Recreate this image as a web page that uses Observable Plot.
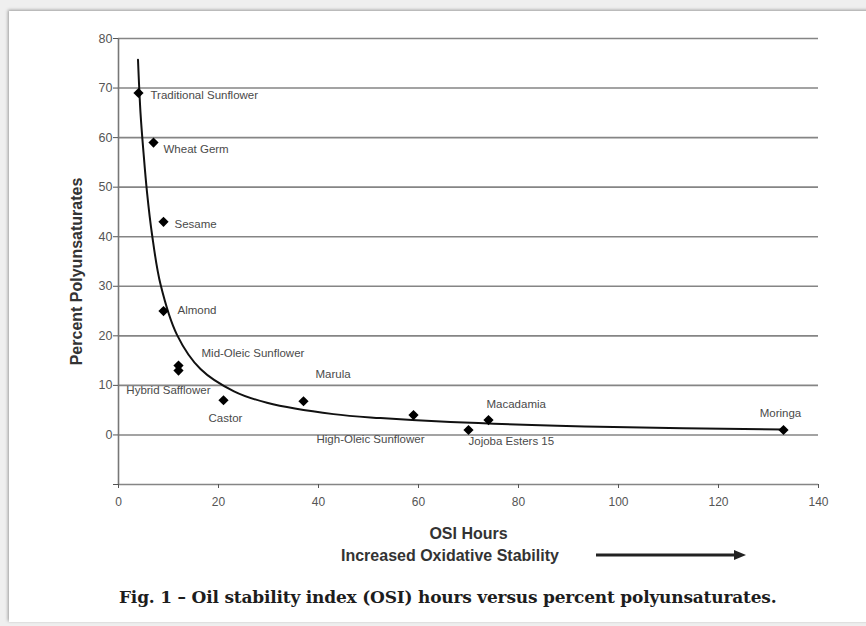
<!DOCTYPE html>
<html>
<head>
<meta charset="utf-8">
<script src="https://cdn.jsdelivr.net/npm/d3@7"></script>
<script src="https://cdn.jsdelivr.net/npm/@observablehq/plot@0.6"></script>
<style>
  html, body { margin: 0; padding: 0; }
  body { width: 866px; height: 626px; background: #efefef; position: relative; overflow: hidden;
         font-family: "Liberation Sans", Arial, sans-serif; }
  #panel { position: absolute; left: 9px; top: 11px; width: 870px; height: 611px; background: #fff;
           box-shadow: -1px -1px 3px rgba(0,0,0,0.35); }
  #chart { position: absolute; left: 0; top: 0; }
  #stability { position: absolute; left: 341px; top: 547px; font-weight: bold; font-size: 16px; color: #333;
               white-space: nowrap; }
  #arrow { position: absolute; left: 594px; top: 548px; }
  #caption { position: absolute; left: 119px; top: 587px; font-family: "DejaVu Serif", serif; font-weight: bold;
             font-size: 17px; color: #1d1d1d; white-space: nowrap; letter-spacing: -0.2px; }
</style>
</head>
<body>
<div id="panel"></div>
<div id="chart"></div>
<div id="stability">Increased Oxidative Stability</div>
<svg id="arrow" width="160" height="14"><line x1="2" y1="7" x2="142" y2="7" stroke="#222" stroke-width="3"/><path d="M140,2 L152,7 L140,12 Z" fill="#222"/></svg>
<div id="caption">Fig. 1 – Oil stability index (OSI) hours versus percent polyunsaturates.</div>
<script>
// Oils and their values
const oils = ["Traditional Sunflower", "Wheat Germ", "Sesame", "Almond", "Mid-Oleic Sunflower",
  "Hybrid Safflower", "Castor", "Marula", "High-Oleic Sunflower", "Jojoba Esters 15", "Macadamia", "Moringa"];
const osiHours = [4, 7, 9, 9, 12, 12, 21, 37, 59, 70, 74, 133];
const polyunsaturates = [69, 59, 43, 25, 14, 13, 7, 6.8, 4, 1, 3, 1];

// Trend curve, points
const curveHours = [3.9, 4.4, 5, 5.7, 6.7, 8.4, 11.7, 16.4, 23.1, 29.7, 43, 52.4, 66.4, 99, 133];
const curvePct = [75.7, 65, 57, 49, 40.5, 30.4, 20.2, 13.3, 8.8, 6.5, 4.2, 3.4, 2.6, 1.6, 1.1];

// Axis ticks
const xTicks = [0, 20, 40, 60, 80, 100, 120, 140];
const yTicks = [0, 10, 20, 30, 40, 50, 60, 70, 80];
const yTickMarks = [-10, ...yTicks];

const xTitle = "OSI Hours";
const yTitle = "Percent Polyunsaturates";

const points = oils.map((name, i) => ({name, x: osiHours[i], y: polyunsaturates[i]}));
const curve = curveHours.map((x, i) => ({x, y: curvePct[i]}));

// label placement (layout only)
const labelLayout = {
  "Traditional Sunflower": {dx: 12, dy: 2, anchor: "start"},
  "Wheat Germ": {dx: 10, dy: 7, anchor: "start"},
  "Sesame": {dx: 11, dy: 2, anchor: "start"},
  "Almond": {dx: 14, dy: -1, anchor: "start"},
  "Mid-Oleic Sunflower": {dx: 23, dy: -12, anchor: "start"},
  "Hybrid Safflower": {dx: 32, dy: 20, anchor: "end"},
  "Castor": {dx: 2, dy: 18, anchor: "middle"},
  "Marula": {dx: 12, dy: -27, anchor: "start"},
  "High-Oleic Sunflower": {dx: 11, dy: 24, anchor: "end"},
  "Jojoba Esters 15": {dx: 0, dy: 11, anchor: "start"},
  "Macadamia": {dx: -2, dy: -16, anchor: "start"},
  "Moringa": {dx: -3, dy: -17, anchor: "middle"}
};

const labelMarks = points.map(p => {
  const L = labelLayout[p.name];
  return Plot.text([p], {x: "x", y: "y", text: "name", dx: L.dx, dy: L.dy, textAnchor: L.anchor,
    fontSize: 11.5, fill: "#4a4a4a"});
});

const chart = Plot.plot({
  width: 866,
  height: 545,
  marginTop: 38,
  marginBottom: 61,
  marginLeft: 118,
  marginRight: 48,
  style: {fontFamily: "'Liberation Sans', Arial, sans-serif", fontSize: "12px", color: "#555", background: "transparent"},
  x: {domain: [0, 140]},
  y: {domain: [-10, 80]},
  marks: [
    Plot.ruleY(yTicks, {stroke: "#858585", strokeWidth: 1.6}),
    Plot.ruleY([-10], {stroke: "#858585", strokeWidth: 1.6}),
    Plot.ruleX([0], {stroke: "#777", strokeWidth: 1.6}),
    Plot.axisX({ticks: xTicks, tickSize: 4, tickPadding: 9, label: null, fontSize: 12}),
    Plot.axisY({ticks: yTickMarks, tickFormat: d => d < 0 ? "" : d, tickSize: 5, tickPadding: 1, label: null, fontSize: 12.5}),
    Plot.line(curve, {x: "x", y: "y", curve: "catmull-rom", stroke: "#111", strokeWidth: 2}),
    Plot.dot(points, {x: "x", y: "y", symbol: "diamond2", r: 4.6, fill: "#000", stroke: "none"}),
    ...labelMarks,
    Plot.text([xTitle], {frameAnchor: "bottom", text: d => d, dy: 49, lineAnchor: "middle", textAnchor: "middle", fontWeight: "bold", fontSize: 16, fill: "#333"}),
    Plot.text([yTitle], {frameAnchor: "left", text: d => d, rotate: -90, dx: -42, dy: 10, textAnchor: "middle", lineAnchor: "middle", fontWeight: "bold", fontSize: 16, fill: "#333"})
  ]
});
document.getElementById("chart").appendChild(chart);
</script>
</body>
</html>
